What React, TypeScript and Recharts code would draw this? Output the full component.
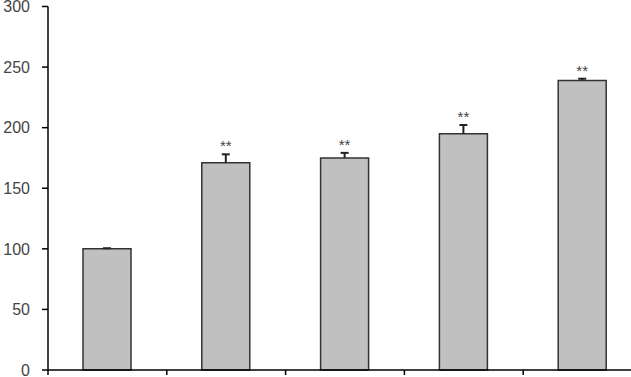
import React from "react";
import { BarChart, Bar, XAxis, YAxis, LabelList } from "recharts";

const categories = ["A", "B", "C", "D", "E"];
const values = [100, 171, 175, 195, 239];
const errors = [0.5, 7, 4.2, 7.2, 1.4];
const marks = ["", "**", "**", "**", "**"];
const yTicks = [0, 50, 100, 150, 200, 250, 300];

const CHART_W = 660;
const MARGIN = { top: 6.5, right: 18, bottom: 0, left: 0 };
const Y_W = 48;
const STEP = (CHART_W - MARGIN.left - MARGIN.right - Y_W) / categories.length;

const data = categories.map((c, i) => ({
  name: c,
  value: values[i],
  err: errors[i],
  mark: marks[i],
}));

const ErrAndStar = (props: any) => {
  const { x, y, width, height, index } = props;
  const d = data[index];
  const scale = height / d.value;
  const yTop = y - d.err * scale;
  const cx = x + width / 2;
  return (
    <g>
      <line x1={cx} y1={y} x2={cx} y2={yTop} stroke="#222" strokeWidth={2} />
      <line x1={cx - 4} y1={yTop} x2={cx + 4} y2={yTop} stroke="#222" strokeWidth={2} />
      {d.mark ? (
        <text
          x={cx}
          y={yTop - 3}
          textAnchor="middle"
          fontSize={15}
          fontFamily="Liberation Sans, Arial, sans-serif"
          fill="#444"
        >
          {d.mark}
        </text>
      ) : null}
    </g>
  );
};

const XTick = (props: any) => {
  const { x, y } = props;
  const bx = x - STEP / 2;
  return <line x1={bx} x2={bx} y1={y} y2={y + 5} stroke="#000" strokeWidth={1.5} />;
};

export default function App() {
  return (
    <div style={{ position: "absolute", top: 0, left: 0, width: 631, height: 377, overflow: "hidden", background: "#fff" }}>
      <BarChart width={CHART_W} height={377} data={data} margin={MARGIN} barSize={48}>
        <XAxis
          dataKey="name"
          interval={0}
          tick={<XTick />}
          tickSize={0}
          tickMargin={0}
          tickLine={false}
          axisLine={{ stroke: "#000", strokeWidth: 1.5 }}
          height={7}
        />
        <YAxis
          width={Y_W}
          domain={[0, 300]}
          ticks={yTicks}
          interval={0}
          tickSize={6}
          tickMargin={12}
          axisLine={{ stroke: "#000", strokeWidth: 1.5 }}
          tickLine={{ stroke: "#000", strokeWidth: 1.5 }}
          tick={{ fontSize: 16, fill: "#444", fontFamily: "Liberation Sans, Arial, sans-serif" }}
        />
        <Bar dataKey="value" fill="#c0c0c0" stroke="#333" strokeWidth={1.5} isAnimationActive={false}>
          <LabelList dataKey="mark" content={<ErrAndStar />} />
        </Bar>
      </BarChart>
    </div>
  );
}
